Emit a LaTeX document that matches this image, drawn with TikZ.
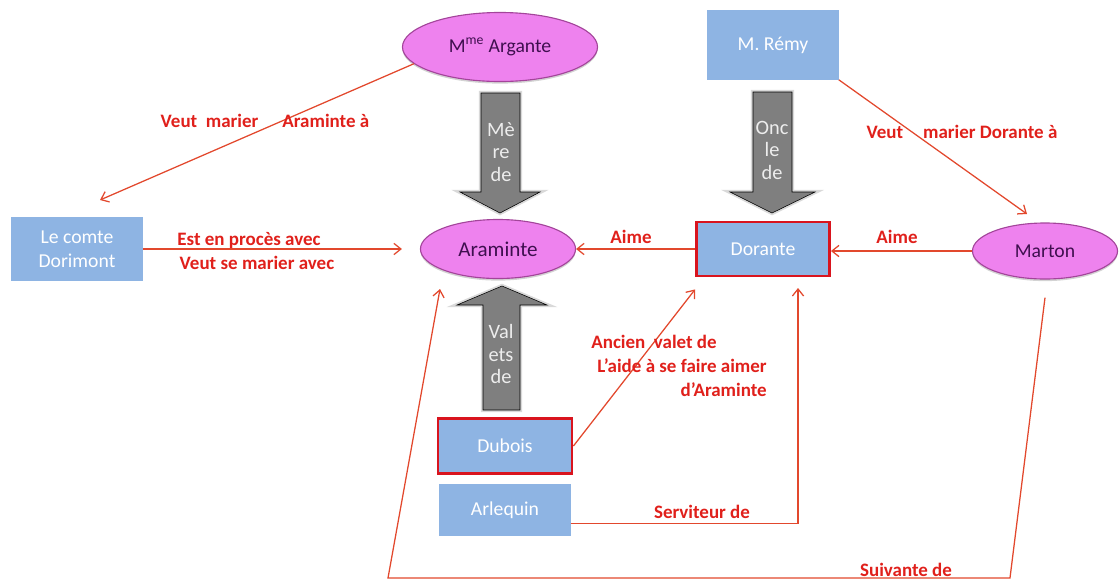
\documentclass[tikz,border=0pt]{standalone}
\usepackage{fontspec}
\setmainfont{Carlito}
\usetikzlibrary{arrows.meta,shapes.geometric,shadows}
\definecolor{pinkfill}{HTML}{EE82EE}
\definecolor{pinkedge}{HTML}{A3459A}
\definecolor{purpletext}{HTML}{3F0F4F}
\definecolor{boxblue}{HTML}{8EB4E3}
\definecolor{herored}{HTML}{D9141E}
\definecolor{linered}{HTML}{E2482D}
\definecolor{labelred}{HTML}{E0201B}
\definecolor{arrowgrey}{HTML}{7F7F7F}
\definecolor{arrowglow}{HTML}{D9D9D9}
\definecolor{arrowtextgrey}{HTML}{EDEDED}

\begin{document}
\begin{tikzpicture}[
			x=0.025cm, y=-0.025cm,
			person/.style = {ellipse, draw=pinkedge, line width=0.8pt, fill=pinkfill,
				text=purpletext, inner sep=0pt, font=\fontsize{14}{16}\selectfont,
				drop shadow={shadow xshift=0pt, shadow yshift=-1.5pt, opacity=0.35, fill=gray}},
			box/.style = {rectangle, fill=boxblue, text=white, inner sep=0pt, align=center,
				font=\fontsize{14}{17}\selectfont},
			hero/.style = {box, draw=herored, line width=2pt},
			rel/.style = {draw=linered, line width=0.9pt, -{Straight Barb[length=5pt,width=8pt]}},
			lbl/.style = {text=labelred, inner sep=0pt, font=\bfseries\fontsize{13.5}{17}\selectfont},
			blockarrow/.style = {fill=arrowgrey, preaction={draw=arrowglow, line width=3pt}},
			arrowtext/.style = {text=arrowtextgrey, align=center, inner sep=0pt,
				font=\fontsize{14.5}{16}\selectfont},
			]
			\useasboundingbox (0,0) rectangle (1119,581);

			% les personnages
			\node[person, minimum width=4.875cm, minimum height=1.725cm] (argante) at (500,47) {M\textsuperscript{me} Argante};
			\node[box, minimum width=3.275cm, minimum height=1.725cm] (remy) at (773,45) {M. Rémy};
			\node[box, minimum width=3.275cm, minimum height=1.575cm] (dorimont) at (77,249) {Le comte\\Dorimont};
			\node[person, minimum width=3.875cm, minimum height=1.475cm, font=\fontsize{15}{17}\selectfont] (araminte) at (498,249) {Araminte};
			\node[hero, minimum width=3.325cm, minimum height=1.35cm] (dorante) at (763,249) {Dorante};
			\node[person, minimum width=3.625cm, minimum height=1.4cm] (marton) at (1045,251) {Marton};
			\node[hero, minimum width=3.35cm, minimum height=1.375cm] (dubois) at (505,446) {Dubois};
			\node[box, minimum width=3.275cm, minimum height=1.3cm] (arlequin) at (505,510) {Arlequin};

			% les liens de parenté
			\filldraw[blockarrow] (481,93) -- (520,93) -- (520,192) -- (540,192) -- (500,213) -- (460,192) -- (481,192) -- cycle;
			\filldraw[blockarrow] (753,92) -- (792,92) -- (792,192) -- (815,192) -- (772,213) -- (730,192) -- (753,192) -- cycle;
			\filldraw[blockarrow] (483,410) -- (520,410) -- (520,305) -- (547,305) -- (502,286) -- (457,305) -- (483,305) -- cycle;
			\node[arrowtext] (mere) at (501,152) {Mè\\re\\de};
			\node[arrowtext] (oncle) at (772,150) {Onc\\le\\de};
			\node[arrowtext] (valets) at (501,354) {Val\\ets\\de};

			\coordinate (comtetip) at (100,200);
			\coordinate (martontip) at (1027,214);
			\coordinate (servtip) at (798,288);
			\coordinate (suivtip) at (440,289);

			\draw[rel] (argante.191) -- (comtetip);
			\draw[rel, shorten >=0.45cm] (dorimont.east) -- (araminte.west);
			\draw[rel] (dorante.west) -- (araminte.east);
			\draw[rel] (marton.west) -- (marton.west -| dorante.east);
			\draw[rel] (remy.south east) -- (martontip);
			\draw[rel] (dubois.east) -- ([yshift=-0.3cm]dorante.south west);
			\draw[rel] ([yshift=-0.33cm]arlequin.east) -| (servtip);
			\draw[rel] ([yshift=-0.45cm]marton.south) -- (1010,578) -- (388,578) -- (suivtip);

			\node[lbl] (veutA) at (265,121) {Veut~~marier\hspace{0.6cm}Araminte à};
			\node[lbl] (proces) at (249,240) {Est en procès avec};
			\node[lbl] (mariage) at (257,263) {Veut se marier avec};
			\node[lbl] (aimeA) at (631,237) {Aime};
			\node[lbl] (aimeB) at (897,237) {Aime};
			\node[lbl] (veutD) at (962,132) {Veut\hspace{0.5cm}marier Dorante à};
			\node[lbl, align=right, anchor=north east] (ancien) at (767,335) {Ancien~~valet de\hspace*{1.25cm}\\L’aide à se faire aimer\\d’Araminte};
			\node[lbl] (serviteur) at (702,512) {Serviteur de};
			\node[lbl] (suivante) at (906,570) {Suivante de};
		\end{tikzpicture}
\end{document}
